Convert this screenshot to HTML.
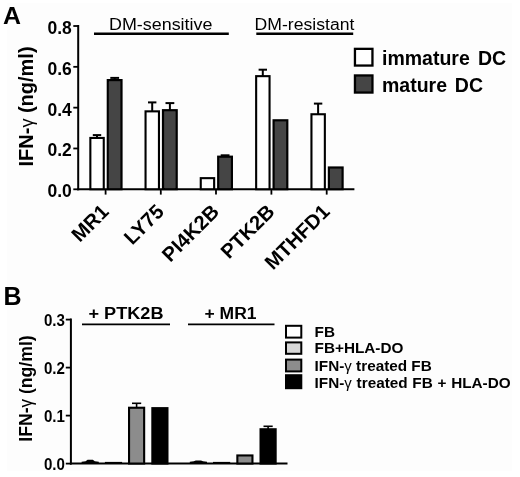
<!DOCTYPE html>
<html><head><meta charset="utf-8"><title>Figure</title>
<style>
html,body{margin:0;padding:0;background:#fff;}
body{width:520px;height:477px;overflow:hidden;}
svg{display:block;}
text{font-family:"Liberation Sans", Arial, sans-serif;fill:#000;}
.b{font-weight:bold;}
.g{font-weight:normal;}
</style></head><body>
<svg width="520" height="477" viewBox="0 0 520 477">
<defs><filter id="soft" x="0" y="0" width="520" height="477" filterUnits="userSpaceOnUse"><feGaussianBlur stdDeviation="0.45"/></filter></defs>
<rect x="0" y="0" width="520" height="477" fill="#ffffff"/>
<rect x="7" y="3" width="505" height="468" fill="#fdfdfd"/>
<g filter="url(#soft)">
<text x="3.00" y="24.20" font-size="24.30" class="b" text-anchor="start" textLength="18" lengthAdjust="spacingAndGlyphs">A</text>
<line x1="78.20" y1="25.00" x2="78.20" y2="190.30" stroke="#000" stroke-width="2.00"/>
<line x1="77.20" y1="189.30" x2="354.40" y2="189.30" stroke="#000" stroke-width="2.00"/>
<line x1="73.30" y1="189.30" x2="78.20" y2="189.30" stroke="#000" stroke-width="1.80"/>
<text x="71.80" y="197.20" font-size="17.50" class="b" text-anchor="end">0.0</text>
<line x1="73.30" y1="148.48" x2="78.20" y2="148.48" stroke="#000" stroke-width="1.80"/>
<text x="71.80" y="156.38" font-size="17.50" class="b" text-anchor="end">0.2</text>
<line x1="73.30" y1="107.65" x2="78.20" y2="107.65" stroke="#000" stroke-width="1.80"/>
<text x="71.80" y="115.55" font-size="17.50" class="b" text-anchor="end">0.4</text>
<line x1="73.30" y1="66.83" x2="78.20" y2="66.83" stroke="#000" stroke-width="1.80"/>
<text x="71.80" y="74.73" font-size="17.50" class="b" text-anchor="end">0.6</text>
<line x1="73.30" y1="26.00" x2="78.20" y2="26.00" stroke="#000" stroke-width="1.80"/>
<text x="71.80" y="33.90" font-size="17.50" class="b" text-anchor="end">0.8</text>
<line x1="105.60" y1="189.30" x2="105.60" y2="194.60" stroke="#000" stroke-width="1.80"/>
<line x1="160.80" y1="189.30" x2="160.80" y2="194.60" stroke="#000" stroke-width="1.80"/>
<line x1="216.00" y1="189.30" x2="216.00" y2="194.60" stroke="#000" stroke-width="1.80"/>
<line x1="271.40" y1="189.30" x2="271.40" y2="194.60" stroke="#000" stroke-width="1.80"/>
<line x1="326.70" y1="189.30" x2="326.70" y2="194.60" stroke="#000" stroke-width="1.80"/>
<line x1="97.00" y1="135.10" x2="97.00" y2="138.20" stroke="#000" stroke-width="2.00"/>
<line x1="92.80" y1="135.10" x2="101.20" y2="135.10" stroke="#000" stroke-width="2.00"/>
<line x1="114.70" y1="77.90" x2="114.70" y2="80.20" stroke="#000" stroke-width="2.00"/>
<line x1="110.30" y1="77.90" x2="119.10" y2="77.90" stroke="#000" stroke-width="2.00"/>
<rect x="90.35" y="137.95" width="13.40" height="51.30" fill="#fff" stroke="#000" stroke-width="2.10"/>
<rect x="107.80" y="80.10" width="13.70" height="109.10" fill="#454545" stroke="#000" stroke-width="2.20"/>
<line x1="152.20" y1="102.40" x2="152.20" y2="111.60" stroke="#000" stroke-width="2.00"/>
<line x1="148.00" y1="102.40" x2="156.40" y2="102.40" stroke="#000" stroke-width="2.00"/>
<line x1="169.90" y1="103.10" x2="169.90" y2="110.30" stroke="#000" stroke-width="2.00"/>
<line x1="165.50" y1="103.10" x2="174.30" y2="103.10" stroke="#000" stroke-width="2.00"/>
<rect x="145.55" y="111.35" width="13.40" height="77.90" fill="#fff" stroke="#000" stroke-width="2.10"/>
<rect x="163.00" y="110.20" width="13.70" height="79.00" fill="#454545" stroke="#000" stroke-width="2.20"/>
<line x1="225.10" y1="155.30" x2="225.10" y2="156.80" stroke="#000" stroke-width="2.00"/>
<line x1="220.70" y1="155.30" x2="229.50" y2="155.30" stroke="#000" stroke-width="2.00"/>
<rect x="200.75" y="178.15" width="13.40" height="11.10" fill="#fff" stroke="#000" stroke-width="2.10"/>
<rect x="218.20" y="156.70" width="13.70" height="32.50" fill="#454545" stroke="#000" stroke-width="2.20"/>
<line x1="262.80" y1="69.70" x2="262.80" y2="76.40" stroke="#000" stroke-width="2.00"/>
<line x1="258.60" y1="69.70" x2="267.00" y2="69.70" stroke="#000" stroke-width="2.00"/>
<rect x="256.15" y="76.15" width="13.40" height="113.10" fill="#fff" stroke="#000" stroke-width="2.10"/>
<rect x="273.60" y="120.30" width="13.70" height="68.90" fill="#454545" stroke="#000" stroke-width="2.20"/>
<line x1="318.10" y1="103.60" x2="318.10" y2="114.50" stroke="#000" stroke-width="2.00"/>
<line x1="313.90" y1="103.60" x2="322.30" y2="103.60" stroke="#000" stroke-width="2.00"/>
<rect x="311.45" y="114.25" width="13.40" height="75.00" fill="#fff" stroke="#000" stroke-width="2.10"/>
<rect x="328.90" y="167.50" width="13.70" height="21.70" fill="#454545" stroke="#000" stroke-width="2.20"/>
<text x="109.00" y="30.10" font-size="17.30" class="n" text-anchor="start" textLength="103.4" lengthAdjust="spacingAndGlyphs">DM-sensitive</text>
<line x1="94.00" y1="33.70" x2="228.80" y2="33.70" stroke="#000" stroke-width="2.40"/>
<text x="254.60" y="30.10" font-size="17.30" class="n" text-anchor="start" textLength="99.8" lengthAdjust="spacingAndGlyphs">DM-resistant</text>
<line x1="256.30" y1="33.70" x2="353.20" y2="33.70" stroke="#000" stroke-width="2.40"/>
<rect x="354.95" y="48.85" width="17.50" height="16.70" fill="#fff" stroke="#000" stroke-width="2.30"/>
<rect x="354.95" y="75.45" width="17.50" height="17.10" fill="#454545" stroke="#000" stroke-width="2.30"/>
<text x="382.00" y="64.70" font-size="19.50" class="b" text-anchor="start" word-spacing="2.7">immature DC</text>
<text x="382.00" y="91.50" font-size="19.50" class="b" text-anchor="start" word-spacing="2.4">mature DC</text>
<text transform="translate(32.5,106.45) rotate(-90) scale(1,1.05)" font-size="20.0" class="b" text-anchor="middle">IFN-<tspan class="g" font-size="18">γ</tspan> (ng/ml)</text>
<text transform="translate(109.90,212.90) rotate(-45)" font-size="20.2" class="b" text-anchor="end">MR1</text>
<text transform="translate(165.10,212.90) rotate(-45)" font-size="20.2" class="b" text-anchor="end">LY75</text>
<text transform="translate(220.30,212.90) rotate(-45)" font-size="20.2" class="b" text-anchor="end">PI4K2B</text>
<text transform="translate(275.70,212.90) rotate(-45)" font-size="20.2" class="b" text-anchor="end">PTK2B</text>
<text transform="translate(331.00,212.90) rotate(-45)" font-size="20.2" class="b" text-anchor="end">MTHFD1</text>
<text x="3.40" y="304.80" font-size="25.00" class="b" text-anchor="start">B</text>
<line x1="70.90" y1="318.50" x2="70.90" y2="464.60" stroke="#000" stroke-width="2.00"/>
<line x1="69.90" y1="463.60" x2="287.50" y2="463.60" stroke="#000" stroke-width="2.00"/>
<line x1="65.80" y1="463.60" x2="70.90" y2="463.60" stroke="#000" stroke-width="1.80"/>
<text x="64.90" y="469.50" font-size="16.30" class="b" text-anchor="end" textLength="21.0" lengthAdjust="spacingAndGlyphs">0.0</text>
<line x1="65.80" y1="415.60" x2="70.90" y2="415.60" stroke="#000" stroke-width="1.80"/>
<text x="64.90" y="421.50" font-size="16.30" class="b" text-anchor="end" textLength="21.0" lengthAdjust="spacingAndGlyphs">0.1</text>
<line x1="65.80" y1="367.60" x2="70.90" y2="367.60" stroke="#000" stroke-width="1.80"/>
<text x="64.90" y="373.50" font-size="16.30" class="b" text-anchor="end" textLength="21.0" lengthAdjust="spacingAndGlyphs">0.2</text>
<line x1="65.80" y1="319.60" x2="70.90" y2="319.60" stroke="#000" stroke-width="1.80"/>
<text x="64.90" y="325.50" font-size="16.30" class="b" text-anchor="end" textLength="21.0" lengthAdjust="spacingAndGlyphs">0.3</text>
<text x="88.50" y="319.10" font-size="17.20" class="b" text-anchor="start" textLength="75.0" lengthAdjust="spacingAndGlyphs">+ PTK2B</text>
<line x1="82.00" y1="324.30" x2="170.00" y2="324.30" stroke="#000" stroke-width="1.80"/>
<text x="204.50" y="319.10" font-size="17.20" class="b" text-anchor="start" textLength="52.0" lengthAdjust="spacingAndGlyphs">+ MR1</text>
<line x1="188.00" y1="324.30" x2="274.50" y2="324.30" stroke="#000" stroke-width="1.80"/>
<path d="M81.60 463.10 L81.60 461.70 L85.60 461.30 L87.60 459.70 L92.80 459.70 L94.80 461.30 L98.80 461.70 L98.80 463.10 Z" fill="#000"/>
<rect x="104.90" y="461.90" width="17.20" height="1.20" fill="#000"/>
<line x1="136.60" y1="403.30" x2="136.60" y2="408.50" stroke="#000" stroke-width="1.60"/>
<line x1="132.00" y1="403.30" x2="141.20" y2="403.30" stroke="#000" stroke-width="1.60"/>
<rect x="129.05" y="407.75" width="15.10" height="55.80" fill="#8c8c8c" stroke="#000" stroke-width="2.10"/>
<rect x="152.35" y="408.15" width="15.10" height="55.40" fill="#000" stroke="#000" stroke-width="2.10"/>
<path d="M189.80 463.10 L189.80 461.70 L193.80 461.30 L195.80 460.50 L201.00 460.50 L203.00 461.30 L207.00 461.70 L207.00 463.10 Z" fill="#000"/>
<rect x="213.00" y="461.90" width="17.20" height="1.20" fill="#000"/>
<rect x="237.35" y="455.45" width="15.10" height="8.10" fill="#8c8c8c" stroke="#000" stroke-width="2.10"/>
<line x1="268.10" y1="426.30" x2="268.10" y2="430.00" stroke="#000" stroke-width="1.60"/>
<line x1="263.50" y1="426.30" x2="272.70" y2="426.30" stroke="#000" stroke-width="1.60"/>
<rect x="260.55" y="429.25" width="15.10" height="34.30" fill="#000" stroke="#000" stroke-width="2.10"/>
<rect x="286.00" y="325.80" width="15.30" height="11.80" fill="#fff" stroke="#000" stroke-width="2.00"/>
<rect x="286.00" y="342.40" width="15.30" height="11.40" fill="#d8d8d8" stroke="#000" stroke-width="2.00"/>
<rect x="286.00" y="359.60" width="15.30" height="11.80" fill="#8c8c8c" stroke="#000" stroke-width="2.00"/>
<rect x="286.00" y="375.20" width="15.30" height="13.00" fill="#000" stroke="#000" stroke-width="2.00"/>
<text x="314.60" y="337.00" font-size="15.30" class="b" text-anchor="start">FB</text>
<text x="314.60" y="353.40" font-size="15.30" class="b" text-anchor="start">FB+HLA-DO</text>
<text x="314.60" y="371.30" font-size="15.30" class="b" text-anchor="start">IFN-<tspan class="g" font-size="15">γ</tspan> treated FB</text>
<text x="314.60" y="388.00" font-size="15.30" class="b" text-anchor="start" word-spacing="0.5">IFN-<tspan class="g" font-size="15">γ</tspan> treated FB + HLA-DO</text>
<text transform="translate(31.7,388.5) rotate(-90) scale(1,1.05)" font-size="17.62" class="b" text-anchor="middle">IFN-<tspan class="g" font-size="17">γ</tspan> (ng/ml)</text>
</g>
</svg>
</body></html>
